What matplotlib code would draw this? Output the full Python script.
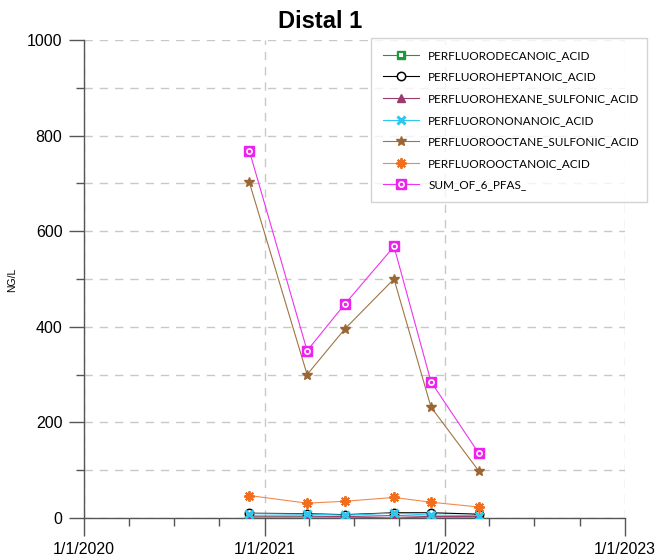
import datetime as dt
import matplotlib
matplotlib.use("Agg")
import matplotlib.pyplot as plt
import matplotlib.dates as mdates
from matplotlib.ticker import MultipleLocator
from matplotlib.legend_handler import HandlerTuple

# Sampling dates and concentrations (NG/L)
dates = [dt.date(2020, 12, 1), dt.date(2021, 3, 28), dt.date(2021, 6, 12),
         dt.date(2021, 9, 20), dt.date(2021, 12, 4), dt.date(2022, 3, 11)]
pfda = [2, 2, 2, 0, 2, 2]
pfhpa = [10, 9, 7, 11, 11, 8]
pfhxs = [4, 4, 3, 5, 3, 3]
pfna = [9, 8, 6, 10, 6, 5]
pfos = [702, 300, 395, 500, 232, 98]
pfoa = [47, 31, 35, 43, 33, 23]
pfas_sum = [768, 350, 447, 568, 285, 135]

labels = ["PERFLUORODECANOIC_ACID", "PERFLUOROHEPTANOIC_ACID",
          "PERFLUOROHEXANE_SULFONIC_ACID", "PERFLUORONONANOIC_ACID",
          "PERFLUOROOCTANE_SULFONIC_ACID", "PERFLUOROOCTANOIC_ACID",
          "SUM_OF_6_PFAS_"]
year_ticks = [dt.date(2020, 1, 1), dt.date(2021, 1, 1),
              dt.date(2022, 1, 1), dt.date(2023, 1, 1)]
year_labels = ["1/1/2020", "1/1/2021", "1/1/2022", "1/1/2023"]

plt.rcParams["font.family"] = ["Liberation Sans", "DejaVu Sans"]

fig = plt.figure(figsize=(6.58, 5.60), dpi=100)
ax = fig.add_axes([84 / 658, 1 - 518 / 560, (625 - 84) / 658, (518 - 40) / 560])

lw = 0.8
handles = []

# Perfluorodecanoic acid: green square with white centre
l, = ax.plot(dates, pfda, color="#1f9a3a", lw=lw, marker="s", ms=6,
             mec="#1f9a3a", mfc="#1f9a3a", zorder=3)
o, = ax.plot(dates, pfda, ls="none", marker="s", ms=2.4, mfc="white",
             mec="white", mew=0, zorder=3.1)
handles.append((l, o))

l, = ax.plot(dates, pfhpa, color="black", lw=lw, marker="o", ms=6,
             mfc="white", mec="black", mew=1.1, zorder=3.2)
handles.append(l)

l, = ax.plot(dates, pfhxs, color="#9b3a6e", lw=lw, marker="^", ms=5.5,
             mfc="#9b3a6e", mec="#9b3a6e", zorder=3.3)
handles.append(l)

l, = ax.plot(dates, pfna, color="#2cc8f0", lw=lw, marker="x", ms=6,
             mec="#2cc8f0", mew=2.2, zorder=3.4)
handles.append(l)

l, = ax.plot(dates, pfos, color="#a07444", lw=lw, marker="*", ms=7.5,
             mfc="#9a6634", mec="#9a6634", zorder=3.5)
handles.append(l)

l, = ax.plot(dates, pfoa, color="#f5894a", lw=lw, marker=(8, 2, 0), ms=7.5,
             mec="#f26e1c", mew=1.4, zorder=3.6)
handles.append(l)

# Sum of six PFAS: magenta square with white ring
l, = ax.plot(dates, pfas_sum, color="#ee33ee", lw=lw, marker="s", ms=6.5,
             mfc="#ee22ee", mec="#ee22ee", zorder=3.7)
o, = ax.plot(dates, pfas_sum, ls="none", marker="o", ms=3.9, mfc="white",
             mec="white", zorder=3.8)
c, = ax.plot(dates, pfas_sum, ls="none", marker="o", ms=1.5, mfc="#ee22ee",
             mec="#ee22ee", zorder=3.9)
handles.append((l, o, c))

# Axes
ax.set_xlim(mdates.date2num(dt.date(2020, 1, 1)), mdates.date2num(dt.date(2023, 1, 1)))
ax.set_ylim(0, 1000)
ax.set_xticks(mdates.date2num(year_ticks))
ax.set_xticklabels(year_labels)
ax.xaxis.set_minor_locator(mdates.MonthLocator(bymonth=[4, 7, 10]))
ax.yaxis.set_major_locator(MultipleLocator(200))
ax.yaxis.set_minor_locator(MultipleLocator(100))

for side in ("top", "right"):
    ax.spines[side].set_visible(False)
for side in ("left", "bottom"):
    ax.spines[side].set_color("#555555")
    ax.spines[side].set_linewidth(1.0)

ax.tick_params(axis="both", which="both", color="#555555", width=1.0,
               labelsize=11.5, labelcolor="black")
ax.tick_params(axis="y", which="major", length=10.5, pad=5)
ax.tick_params(axis="y", which="minor", length=5.5)
ax.tick_params(axis="x", which="major", length=13, pad=4)
ax.tick_params(axis="x", which="minor", length=6)

grid_kw = dict(color="#c8c8c8", lw=1.0, ls=(0, (6, 5)))
ax.yaxis.grid(True, which="both", **grid_kw)
ax.xaxis.grid(True, which="major", **grid_kw)
ax.set_axisbelow(True)

fig.text(12 / 658, 1 - 280 / 560, "NG/L", fontsize=7.5, rotation=90,
         ha="center", va="center")
fig.text(320 / 658, 1 - 28 / 560, "Distal 1", fontsize=17, fontweight="bold",
         ha="center", va="baseline")

leg = fig.legend(handles, labels, loc="upper left",
                 bbox_to_anchor=(371 / 658, 1 - 205 / 560, 276 / 658, 167 / 560),
                 mode="expand", frameon=True, fancybox=False,
                 prop={"family": ["Lato", "DejaVu Sans"], "size": 8.5},
                 handlelength=3.1, handletextpad=0.75, labelspacing=0.9,
                 borderpad=1.0, borderaxespad=0,
                 handler_map={tuple: HandlerTuple(ndivide=1)})
leg.get_frame().set_edgecolor("#c8c8c8")
leg.get_frame().set_linewidth(1.0)

fig.savefig("out.png", dpi=100)
